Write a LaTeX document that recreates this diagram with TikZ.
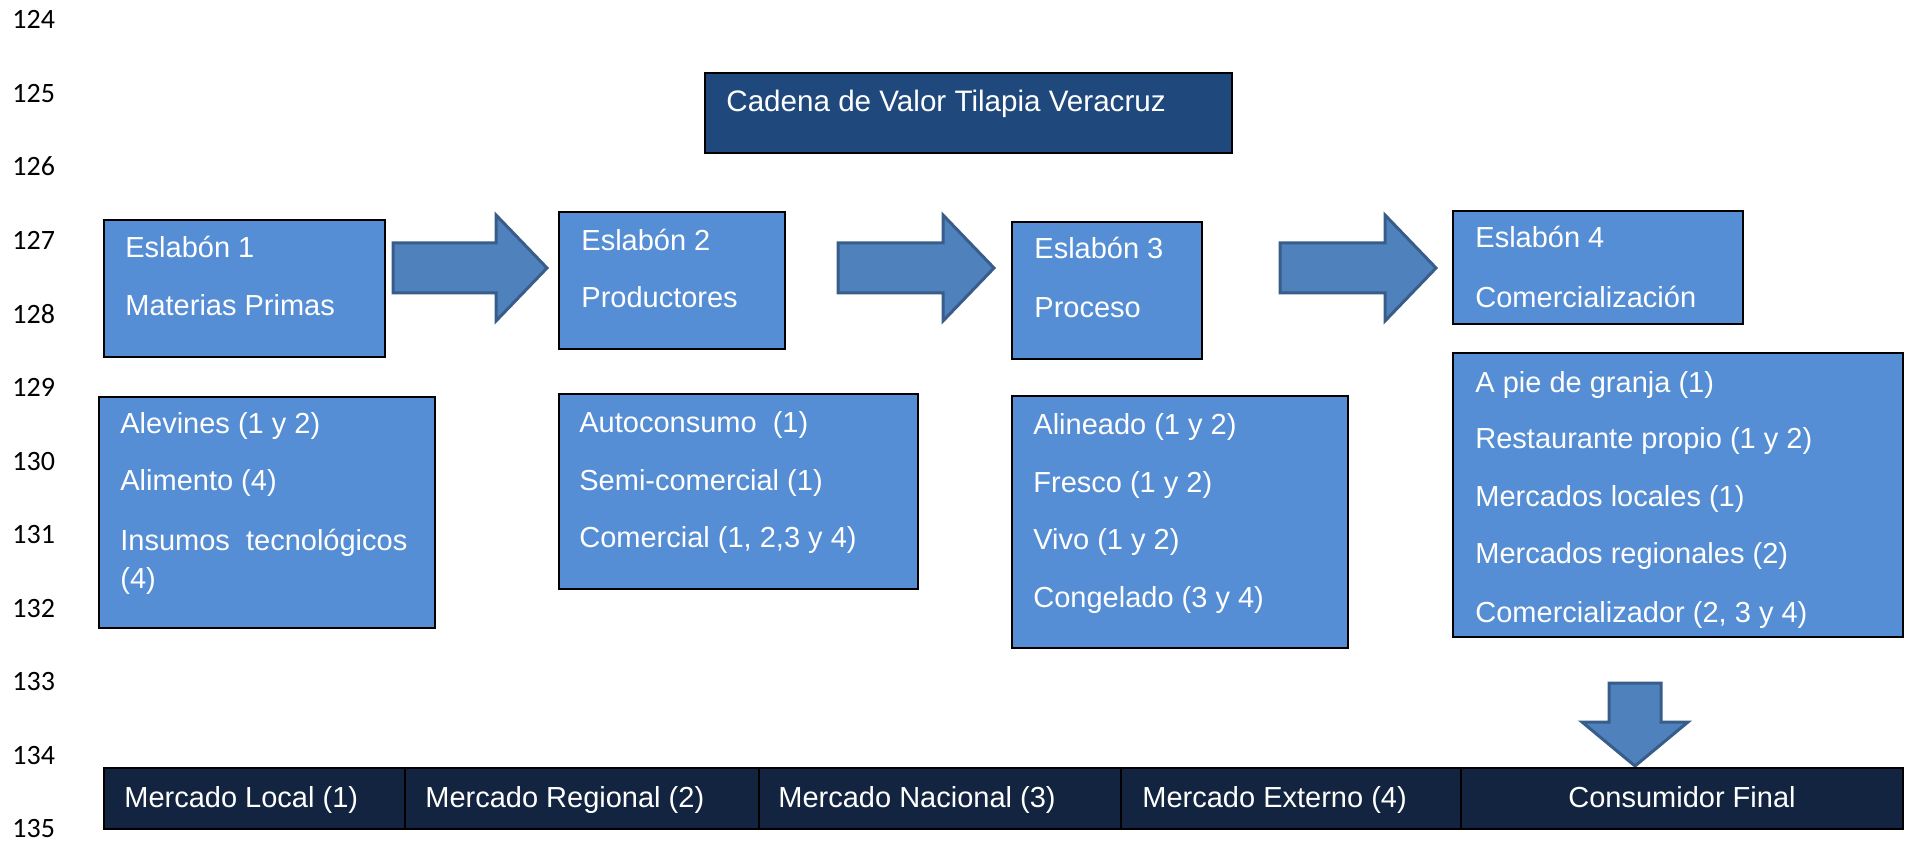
\documentclass[tikz,border=0pt]{standalone}
\usepackage{fontspec}
\setmainfont{Liberation Sans}
\newfontfamily\numfont{Carlito}
\usetikzlibrary{fit}

\definecolor{cajaazul}{HTML}{558ED5}
\definecolor{tituloazul}{HTML}{1F497D}
\definecolor{barraazul}{HTML}{12243F}
\definecolor{flechaazul}{HTML}{4F81BD}
\definecolor{flechaborde}{HTML}{385D8A}

\tikzset{
  caja/.style={draw=black, line width=0.9pt, fill=cajaazul, inner sep=0pt},
  titulo/.style={draw=black, line width=0.9pt, fill=tituloazul, inner sep=0pt},
  celda/.style={draw=black, line width=0.6pt, fill=barraazul, inner sep=0pt},
  txt/.style={anchor=base west, inner sep=0pt, text=white, font=\fontsize{14.5}{17}\selectfont},
  numero/.style={anchor=base west, inner sep=0pt, font=\numfont\fontsize{14}{16}\selectfont},
  flecha/.style={fill=flechaazul, draw=flechaborde, line width=1.5pt, line join=miter}
}

% block arrow: x start, x tip, y centre
\newcommand{\bloqueflecha}[3]{%
  \draw[flecha] (#1,#3-25) -- (#2-51,#3-25) -- (#2-51,#3-53) -- (#2,#3)
    -- (#2-51,#3+53) -- (#2-51,#3+25) -- (#1,#3+25) -- cycle;}

\begin{document}
\begin{tikzpicture}[x=0.5pt, y=-0.5pt]
    \useasboundingbox (0,0) rectangle (1911,845);

    % line numbers
    \foreach \n in {124,...,135}
        \node[numero] (l\n) at (12,{29+73.5*(\n-124)}) {\n};

    % title
    \node[titulo, fit={(705,73) (1232,153)}] (tit) {};
    \node[txt, font=\fontsize{14.8}{17}\selectfont] (tita) at (726,112) {Cadena de Valor Tilapia Veracruz};

    % eslabones
    \node[caja, fit={(104,220) (385,357)}] (e1) {};
    \node[caja, fit={(559,212) (785,349)}] (e2) {};
    \node[caja, fit={(1012,222) (1202,359)}] (e3) {};
    \node[caja, fit={(1453,211) (1743,324)}] (e4) {};
    \node[txt] (e1a) at (125,258) {Eslabón 1};
    \node[txt] (e1b) at (125,315) {Materias Primas};
    \node[txt] (e2a) at (581,250) {Eslabón 2};
    \node[txt] (e2b) at (581,307) {Productores};
    \node[txt] (e3a) at (1034,259) {Eslabón 3};
    \node[txt] (e3b) at (1034,317) {Proceso};
    \node[txt] (e4a) at (1475,248) {Eslabón 4};
    \node[txt] (e4b) at (1475,307) {Comercialización};

    % left to right arrows
    \bloqueflecha{393}{547}{268}
    \bloqueflecha{838}{994}{268}
    \bloqueflecha{1280}{1436}{268}

    % detail boxes
    \node[caja, fit={(99,397) (435,628)}] (b1) {};
    \node[caja, fit={(559,394) (918,589)}] (b2) {};
    \node[caja, fit={(1012,396) (1348,648)}] (b3) {};
    \node[caja, fit={(1453,353) (1903,637)}] (b4) {};

    \node[txt] (b1a) at (120,433) {Alevines (1 y 2)};
    \node[txt] (b1b) at (120,490) {Alimento (4)};
    \node[txt] (b1c) at (120,550) {Insumos~ tecnológicos};
    \node[txt] (b1d) at (120,588) {(4)};

    \node[txt] (b2a) at (579,432) {Autoconsumo~ (1)};
    \node[txt] (b2b) at (579,490) {Semi-comercial (1)};
    \node[txt] (b2c) at (579,547) {Comercial (1, 2,3 y 4)};

    \node[txt] (b3a) at (1033,434) {Alineado (1 y 2)};
    \node[txt] (b3b) at (1033,492) {Fresco (1 y 2)};
    \node[txt] (b3c) at (1033,549) {Vivo (1 y 2)};
    \node[txt] (b3d) at (1033,607) {Congelado (3 y 4)};

    \node[txt] (b4a) at (1475,392) {A pie de granja (1)};
    \node[txt] (b4b) at (1475,448) {Restaurante propio (1 y 2)};
    \node[txt] (b4c) at (1475,506) {Mercados locales (1)};
    \node[txt] (b4d) at (1475,563) {Mercados regionales (2)};
    \node[txt] (b4e) at (1475,622) {Comercializador (2, 3 y 4)};

    % down arrow
    \draw[flecha] (1609,683) -- (1661,683) -- (1661,722) -- (1688,722) -- (1635,766)
        -- (1582,722) -- (1609,722) -- cycle;

    % markets bar
    \node[celda, fit={(104,768) (405,829)}] (m1) {};
    \node[celda, fit={(405,768) (759,829)}] (m2) {};
    \node[celda, fit={(759,768) (1121,829)}] (m3) {};
    \node[celda, fit={(1121,768) (1461,829)}] (m4) {};
    \node[celda, fit={(1461,768) (1903,829)}] (m5) {};
    \node[txt] (m1a) at (124,807) {Mercado Local (1)};
    \node[txt] (m2a) at (425,807) {Mercado Regional (2)};
    \node[txt] (m3a) at (778,807) {Mercado Nacional (3)};
    \node[txt] (m4a) at (1142,807) {Mercado Externo (4)};
    \node[txt, anchor=base] (m5a) at (1682,807) {Consumidor Final};
\end{tikzpicture}
\end{document}
